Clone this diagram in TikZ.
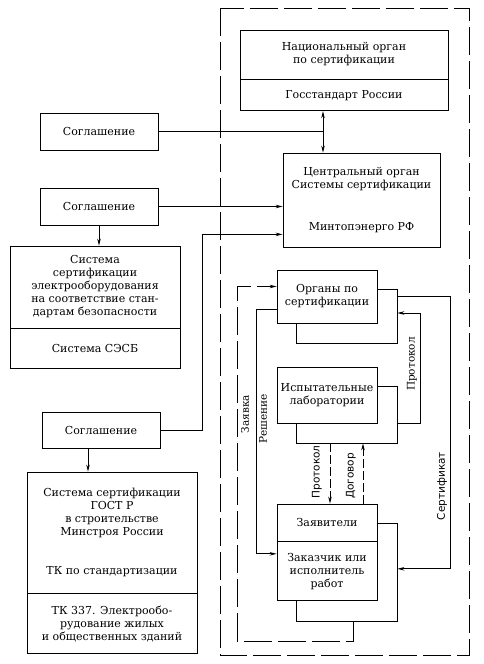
\documentclass[tikz,border=0pt]{standalone}
\usepackage{fontspec}
\setmainfont{DejaVu Serif}
\newfontfamily\podpis{DejaVu Sans}
\usetikzlibrary{arrows.meta,calc,positioning}

\begin{document}
\begin{tikzpicture}[x=1pt,y=-1pt,line width=0.8pt,
  >={Stealth[length=7pt,width=3.5pt]},
  blok/.style={draw,align=center,inner sep=1pt,font=\fontsize{11}{13}\selectfont},
  metka/.style={rotate=90,inner sep=1pt,font=\fontsize{10.5}{12}\selectfont},
  ramka/.style={dash pattern=on 28pt off 6pt},
  shtrih/.style={dash pattern=on 9pt off 3pt}]
\useasboundingbox (0,0) rectangle (484,664);

% outer frame
\draw[ramka] (220,8) rectangle (469,655);

% right column
\node[blok,minimum width=208pt,minimum height=49pt] (nat1) at (344,54.5) {Национальный орган\\по сертификации};
\node[blok,minimum width=208pt,minimum height=31pt,anchor=north] (nat2) at (nat1.south) {Госстандарт России};
\node[blok,minimum width=157pt,minimum height=94pt] (cen) at (361.5,200) {Центральный орган\\Системы сертификации\\[29pt]Минтопэнерго РФ};
\node[blok,minimum width=100pt,minimum height=53pt] (org) at (327,296.5) {Органы по\\сертификации};
\node[blok,minimum width=100pt,minimum height=56pt] (lab) at (327,395) {Испытательные\\лаборатории};
\node[blok,minimum width=100pt,minimum height=37pt] (zav) at (327,522.5) {Заявители};
\node[blok,minimum width=100pt,minimum height=59pt,anchor=north] (zak) at (zav.south) {Заказчик или\\исполнитель\\работ};

% back boxes
\foreach \a/\b in {org/org,lab/lab,zak/zav}
  \draw ($(\a.south west)+(20,0)$) -- ++(0,20) -| ($(\b.north east)+(20,20)$) -- ($(\b.north east)+(0,20)$);

% left column
\node[blok,minimum width=118pt,minimum height=37pt] (sog1) at (99,131.5) {Соглашение};
\node[blok,minimum width=118pt,minimum height=37pt] (sog2) at (99,206.5) {Соглашение};
\node[blok,minimum width=170pt,minimum height=82pt] (sesb1) at (95,287) {Система\\сертификации\\электрооборудования\\на соответствие стан-\\дартам безопасности};
\node[blok,minimum width=170pt,minimum height=40pt,anchor=north] (sesb2) at (sesb1.south) {Система СЭСБ};
\node[blok,minimum width=118pt,minimum height=36pt] (sog3) at (101,430) {Соглашение};
\node[blok,minimum width=170pt,minimum height=121pt] (gost1) at (112,532.5) {Система сертификации\\ГОСТ Р\\в строительстве\\Минстроя России\\[26pt]ТК по стандартизации};
\node[blok,minimum width=170pt,minimum height=60pt,anchor=north] (gost2) at (gost1.south) {ТК 337. Электрообо-\\рудование жилых\\и общественных зданий};

% links
\coordinate (dv) at ($(nat2.south)+(-21,0)$);
\draw[<->] (dv) -- (dv |- cen.north);
\draw (sog1.east) -- (sog1.east -| dv);
\draw[->] (sog2.east) -- (sog2.east -| cen.west);
\draw[->] (sog2.south) -- (sog2.south |- sesb1.north);
\draw[->] (sog3.east) -- ++(42,0) |- ([yshift=13pt]cen.south west);
\draw[->] ([xshift=-13pt]sog3.south) -- ([xshift=-24pt]gost1.north);

\coordinate (zb) at ($(zak.south west)+(77,20)$);
\draw[->,ramka] (zb) -- ++(0,20) -- ++(-116,0) |- ([yshift=10pt]org.west);
\draw[->] ([yshift=-12.5pt]org.west) -- ++(-20,0) |- ([yshift=17.5pt]zak.west);
\draw[->] ([xshift=20pt]org.east) -- ++(53,0) |- ([xshift=20pt,yshift=2.5pt]zak.east);
\draw[->] ([xshift=20pt]lab.south east) -- ++(23,0) |- ([xshift=20pt,yshift=-16.5pt]org.east);
\draw[->,shtrih] ([xshift=3pt,yshift=-20pt]lab.south) -- ([xshift=3pt]zav.north);
\draw[->,shtrih] ([xshift=36pt]zav.north) -- ([xshift=36pt,yshift=-20pt]lab.south);

% labels
\node[metka] (zayavka) at (245,414) {Заявка};
\node[metka] (reshenie) at (263,419) {Решение};
\node[metka] (prot1) at (412,364) {Протокол};
\node[metka,font=\podpis\fontsize{10.5}{12}\selectfont] (prot2) at (317,472) {Протокол};
\node[metka,font=\podpis\fontsize{10.5}{12}\selectfont] (dogovor) at (351,476) {Договор};
\node[metka,font=\podpis\fontsize{10.5}{12}\selectfont] (sert) at (442,486) {Сертификат};
\end{tikzpicture}
\end{document}
